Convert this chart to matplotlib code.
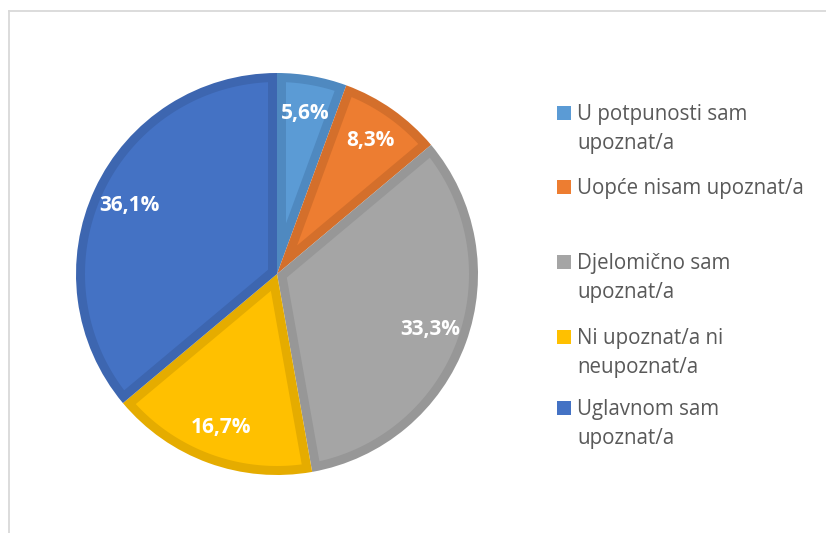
import matplotlib
matplotlib.use("Agg")
import matplotlib.pyplot as plt
from matplotlib.patches import Rectangle, Polygon
from matplotlib.lines import Line2D
import numpy as np

categories = ["U potpunosti sam\nupoznat/a", "Uopće nisam upoznat/a",
              "Djelomično sam\nupoznat/a", "Ni upoznat/a ni\nneupoznat/a",
              "Uglavnom sam\nupoznat/a"]
values = [5.6, 8.3, 33.3, 16.7, 36.1]
labels = ["5,6%", "8,3%", "33,3%", "16,7%", "36,1%"]
fill_colors = ["#5B9BD5", "#ED7D31", "#A5A5A5", "#FFC000", "#4472C4"]
edge_colors = ["#4F89C0", "#D46F2B", "#979797", "#E5AC00", "#3D66B0"]

W, H = 826, 533
dpi = 100
fig = plt.figure(figsize=(W / dpi, H / dpi), dpi=dpi)
fig.patch.set_facecolor("white")

# frame lines (left and top only visible)
fig.add_artist(Line2D([9 / W, 9 / W], [0, 1 - 11 / H], transform=fig.transFigure,
                      color="#D9D9D9", lw=1.3))
fig.add_artist(Line2D([9 / W, 1], [1 - 11 / H, 1 - 11 / H], transform=fig.transFigure,
                      color="#D9D9D9", lw=1.3))

cx, cy, r = 277, 274, 201
ax = fig.add_axes([(cx - r) / W, (H - cy - r) / H, 2 * r / W, 2 * r / H])

# outer wedges in the border (darker) colour
wedges, _ = ax.pie(values, colors=edge_colors, startangle=90, counterclock=False,
                   radius=1, center=(0, 0), frame=False,
                   wedgeprops=dict(linewidth=0))
ax.set_xlim(-1, 1)
ax.set_ylim(-1, 1)
ax.set_aspect("equal")
ax.axis("off")

# inset fills: each slice has an inner border of b (axes units)
b = 9.0 / r
for w, fc in zip(wedges, fill_colors):
    t1, t2 = np.radians(w.theta1), np.radians(w.theta2)
    span = t2 - t1
    mid = (t1 + t2) / 2
    d = b / np.sin(span / 2)
    apex = d * np.array([np.cos(mid), np.sin(mid)])
    R = 1 - b

    def hit(t):
        u = np.array([np.cos(t), np.sin(t)])
        pu = apex @ u
        s = -pu + np.sqrt(pu ** 2 - (apex @ apex - R ** 2))
        return apex + s * u

    p1 = hit(t1)
    p2 = hit(t2)
    a1 = np.arctan2(p1[1], p1[0])
    a2 = np.arctan2(p2[1], p2[0])
    while a2 < a1:
        a2 += 2 * np.pi
    arc = np.linspace(a1, a2, 200)
    pts = np.vstack([apex, p1, np.column_stack([R * np.cos(arc), R * np.sin(arc)]), p2])
    ax.add_patch(Polygon(pts, closed=True, facecolor=fc, edgecolor="none", zorder=2))

# labels
total = sum(values)
start = 90.0
label_dist = 0.81
for v, lab in zip(values, labels):
    ang = start - v / total * 360 / 2
    start -= v / total * 360
    x = label_dist * np.cos(np.radians(ang))
    y = label_dist * np.sin(np.radians(ang))
    ax.text(x, y, lab, ha="center", va="center", color="white", zorder=5,
            fontsize=15, fontweight="bold", family=["Open Sans", "DejaVu Sans"])

# manual legend
leg_y = [113, 187, 262, 337, 408]
sq = 14
line_gap = 29
for name, col, ly in zip(categories, fill_colors, leg_y):
    fig.add_artist(Rectangle(((564 - sq / 2) / W, (H - ly - sq / 2) / H), sq / W, sq / H,
                             transform=fig.transFigure, facecolor=col, edgecolor="none"))
    for i, line in enumerate(name.split("\n")):
        fig.text(577 / W, (H - (ly + 7 + i * line_gap)) / H, line, ha="left", va="baseline",
                 color="#595959", fontsize=14.8, family=["Open Sans", "DejaVu Sans"])

fig.savefig("out.png", dpi=dpi)
